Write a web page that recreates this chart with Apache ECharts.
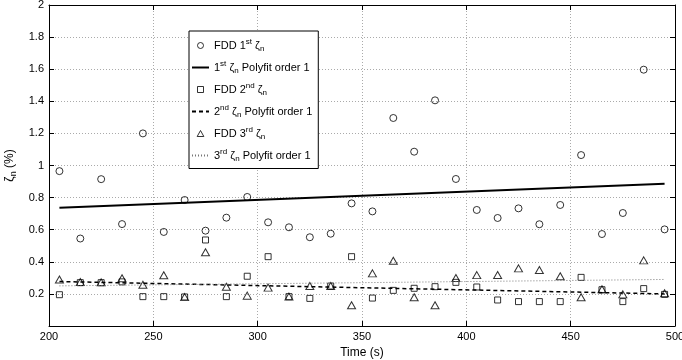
<!DOCTYPE html>
<html>
<head>
<meta charset="utf-8">
<script src="https://cdn.jsdelivr.net/npm/echarts@6/dist/echarts.min.js"></script>
<style>
html,body{margin:0;padding:0;background:#fff;}
#chart{width:682px;height:360px;}
</style>
</head>
<body>
<div id="chart"></div>
<script>
// ---- data ----
const times = [205,215,225,235,245,255,265,275,285,295,305,315,325,335,345,355,365,375,385,395,405,415,425,435,445,455,465,475,485,495];
const zeta1 = [0.965,0.545,0.915,0.635,1.20,0.586,0.785,0.594,0.675,0.804,0.646,0.615,0.553,0.575,0.764,0.714,1.296,1.086,1.406,0.916,0.723,0.673,0.733,0.634,0.754,1.065,0.573,0.704,1.597,0.602];
const zeta2 = [0.195,0.270,0.270,0.275,0.183,0.183,0.181,0.536,0.183,0.310,0.432,0.183,0.172,0.249,0.432,0.174,0.222,0.235,0.245,0.272,0.243,0.162,0.152,0.152,0.152,0.303,0.226,0.152,0.233,0.197];
const zeta3 = [0.290,0.274,0.272,0.297,0.257,0.316,0.180,0.459,0.245,0.189,0.239,0.183,0.249,0.249,0.129,0.328,0.407,0.179,0.129,0.299,0.317,0.318,0.359,0.349,0.310,0.179,0.229,0.197,0.409,0.204];
const fitTimes = [205, 495];
const fit1 = [0.737, 0.887];
const fit2 = [0.277, 0.200];
const fit3 = [0.250, 0.290];
const xTicks = {min:200, max:500, step:50};
const yTicks = {min:0, max:2, step:0.2};
const legendNames = [
  'FDD 1{sup|st} ζ{sub|n}',
  '1{sup|st} ζ{sub|n} Polyfit order 1',
  'FDD 2{sup|nd} ζ{sub|n}',
  '2{sup|nd} ζ{sub|n} Polyfit order 1',
  'FDD 3{sup|rd} ζ{sub|n}',
  '3{sup|rd} ζ{sub|n} Polyfit order 1'
];

const zip = (xs, ys) => xs.map((x, i) => [x, ys[i]]);
const FONT = 'Liberation Sans, Arial, Helvetica, sans-serif';
const rich = {
  sup: {fontSize: 8, fontFamily: FONT, color:'#000', padding:[0,0,7,0]},
  sub: {fontSize: 8, fontFamily: FONT, color:'#000', padding:[6,0,0,0]}
};
const richY = {
  sub: {fontSize: 9, fontFamily: FONT, color:'#000', padding:[7,0,0,0]}
};

const SQUARE = 'path://M0,0L10,0L10,10L0,10Z';
const TRIANGLE = 'path://M5,0L10,9L0,9Z';

const chart = echarts.init(document.getElementById('chart'), null, {renderer:'canvas'});

const scatterStyle = {color:'rgba(255,255,255,0)', borderColor:'#000', borderWidth:1};
const hiddenItem = {color:'rgba(0,0,0,0)', borderColor:'rgba(0,0,0,0)', borderWidth:0};
const legendMarker = {color:'rgba(255,255,255,0)', borderColor:'#000', borderWidth:1};

const option = {
  animation: false,
  textStyle: {fontFamily: FONT},
  grid: {left:49, right:7, top:5, bottom:34, containLabel:false, outerBoundsMode:'none'},
  xAxis: [{
    type:'value', min:xTicks.min, max:xTicks.max, interval:xTicks.step,
    name:'Time (s)', nameLocation:'middle', nameGap:20,
    nameTextStyle:{fontSize:12, color:'#000', fontFamily:FONT},
    axisLine:{show:true, onZero:false, lineStyle:{color:'#000', width:1}},
    axisTick:{show:true, inside:true, length:5, lineStyle:{color:'#000'}},
    axisLabel:{fontSize:11, color:'#000', margin:5, fontFamily:FONT},
    splitLine:{show:true, lineStyle:{color:'#aaa', type:[1,2], width:1}}
  },{
    type:'value', position:'top', min:xTicks.min, max:xTicks.max, interval:xTicks.step,
    axisLine:{show:true, onZero:false, lineStyle:{color:'#000', width:1}},
    axisTick:{show:true, inside:true, length:5, lineStyle:{color:'#000'}},
    axisLabel:{show:false}, splitLine:{show:false}
  }],
  yAxis: [{
    type:'value', min:yTicks.min, max:yTicks.max, interval:yTicks.step,
    name:'ζ{sub|n} (%)', nameLocation:'middle', nameGap:30, nameRotate:90,
    nameTextStyle:{fontSize:12, color:'#000', fontFamily:FONT, rich: richY},
    axisLine:{show:true, onZero:false, lineStyle:{color:'#000', width:1}},
    axisTick:{show:true, inside:true, length:5, lineStyle:{color:'#000'}},
    axisLabel:{fontSize:11, color:'#000', margin:5, fontFamily:FONT,
      formatter: v => (v === 0 ? '' : String(Math.round(v*10)/10))},
    splitLine:{show:true, lineStyle:{color:'#aaa', type:[1,2], width:1}}
  },{
    type:'value', position:'right', min:yTicks.min, max:yTicks.max, interval:yTicks.step,
    axisLine:{show:true, onZero:false, lineStyle:{color:'#000', width:1}},
    axisTick:{show:true, inside:true, length:5, lineStyle:{color:'#000'}},
    axisLabel:{show:false}, splitLine:{show:false}
  }],
  legend: {
    orient:'vertical', left:189, top:31,
    backgroundColor:'#fff', borderColor:'#000', borderWidth:1, borderRadius:0,
    padding:[7,6,6,2], itemGap:7.5, itemWidth:17, itemHeight:6,
    textStyle:{fontSize:11, color:'#000', fontFamily:FONT, rich: rich},
    selectedMode:false,
    data: [
      {name: legendNames[0], icon:'circle', itemStyle: legendMarker},
      {name: legendNames[1]},
      {name: legendNames[2], icon: SQUARE, itemStyle: legendMarker},
      {name: legendNames[3]},
      {name: legendNames[4], icon: TRIANGLE, itemStyle: legendMarker},
      {name: legendNames[5]}
    ],
    z: 10
  },
  series: [
    {name:legendNames[0], type:'scatter', symbol:'circle', symbolSize:7, data: zip(times, zeta1), itemStyle: scatterStyle, z:3},
    {name:legendNames[1], type:'line', symbol:'none', data: zip(fitTimes, fit1), itemStyle: hiddenItem, lineStyle:{color:'#000', width:2, type:'solid'}, z:4},
    {name:legendNames[2], type:'scatter', symbol:'rect', symbolSize:6, data: zip(times, zeta2), itemStyle: scatterStyle, z:3},
    {name:legendNames[3], type:'line', symbol:'none', data: zip(fitTimes, fit2), itemStyle: hiddenItem, lineStyle:{color:'#000', width:1.5, type:[4,3]}, z:4},
    {name:legendNames[4], type:'scatter', symbol:'triangle', symbolSize:[8,7], data: zip(times, zeta3), itemStyle: scatterStyle, z:3},
    {name:legendNames[5], type:'line', symbol:'none', data: zip(fitTimes, fit3), itemStyle: hiddenItem, lineStyle:{color:'#777', width:1, type:[1,2]}, z:4}
  ]
};
chart.setOption(option);
</script>
</body>
</html>
